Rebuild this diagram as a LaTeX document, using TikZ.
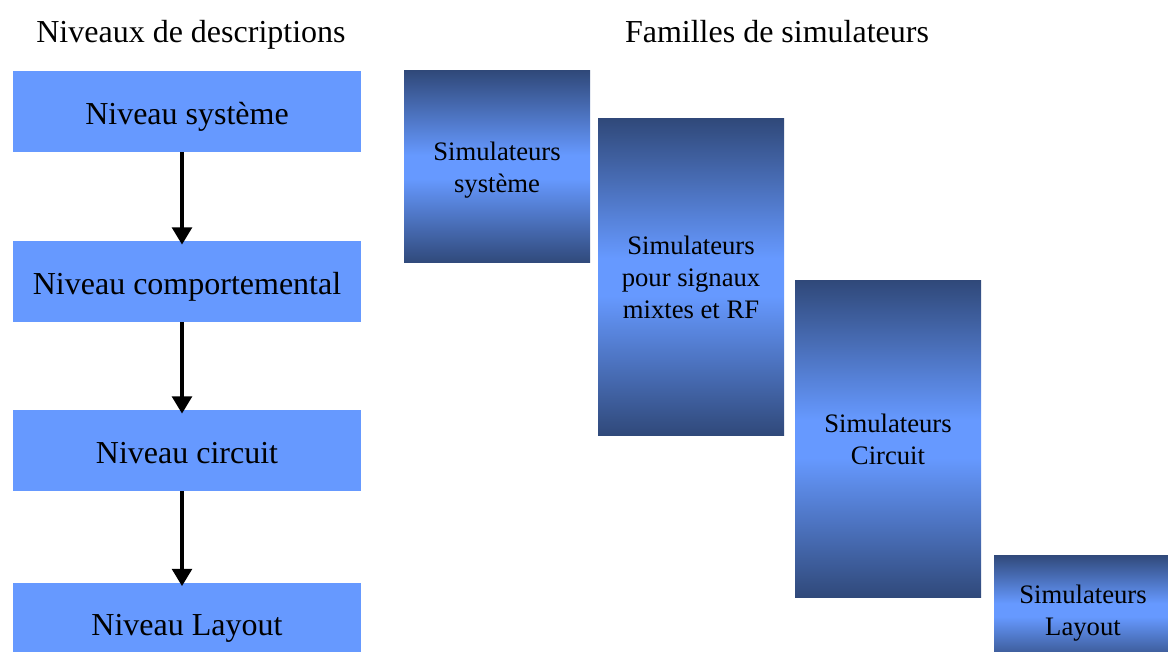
\documentclass[tikz,border=0pt]{standalone}
\usepackage{fontspec}
\setmainfont{Liberation Serif}
\usetikzlibrary{arrows.meta}
\definecolor{levelblue}{RGB}{102,153,255}
\definecolor{simdark}{RGB}{48,73,122}
\pgfdeclareverticalshading{simshade}{100bp}{color(0bp)=(simdark); color(25bp)=(simdark); color(47bp)=(levelblue); color(53bp)=(levelblue); color(75bp)=(simdark); color(100bp)=(simdark)}
\tikzset{
  level/.style={fill=levelblue, inner sep=0pt, minimum width=261pt, minimum height=60.75pt, text height=19pt, text depth=0pt, font=\fontsize{24}{28}\selectfont},
  sim/.style={shading=simshade, inner sep=0pt, minimum width=139.5pt, align=center, text depth=-2pt, font=\fontsize{20}{24}\selectfont},
  title/.style={anchor=base, font=\fontsize{24}{28}\selectfont},
  down/.style={-{Triangle[width=14.5pt,length=13pt]}, line width=3.5pt, shorten >=-3pt}
}
\begin{document}
\begin{tikzpicture}[x=0.75pt,y=-0.75pt]
\useasboundingbox (0,0) rectangle (1168,652);
\clip (0,0) rectangle (1168,652);

\node[title] (t1) at (191,43) {Niveaux de descriptions};
\node[title] (t2) at (777,43) {Familles de simulateurs};

\node[level] (sys) at (187,111.5) {Niveau système};
\node[level] (comp) at (187,281.5) {Niveau comportemental};
\node[level] (circ) at (187,450.5) {Niveau circuit};
\node[level] (lay) at (187,623) {Niveau Layout};

\draw[down] ([xshift=-3.75pt]sys.south) -- ([xshift=-3.75pt]comp.north);
\draw[down] ([xshift=-3.75pt]comp.south) -- ([xshift=-3.75pt]circ.north);
\draw[down] ([xshift=-3.75pt]circ.south) -- ([xshift=-3.75pt]lay.north);

\node[sim, minimum height=144pt] (ssys) at (497,167) {Simulateurs\\système};
\node[sim, minimum height=237pt] (smix) at (691,277) {Simulateurs\\pour signaux\\mixtes et RF};
\node[sim, minimum height=237pt] (scirc) at (888,439) {Simulateurs\\Circuit};
\node[sim, minimum width=133.5pt, minimum height=82.5pt] (slay) at (1083,610) {Simulateurs\\Layout};
\end{tikzpicture}
\end{document}
